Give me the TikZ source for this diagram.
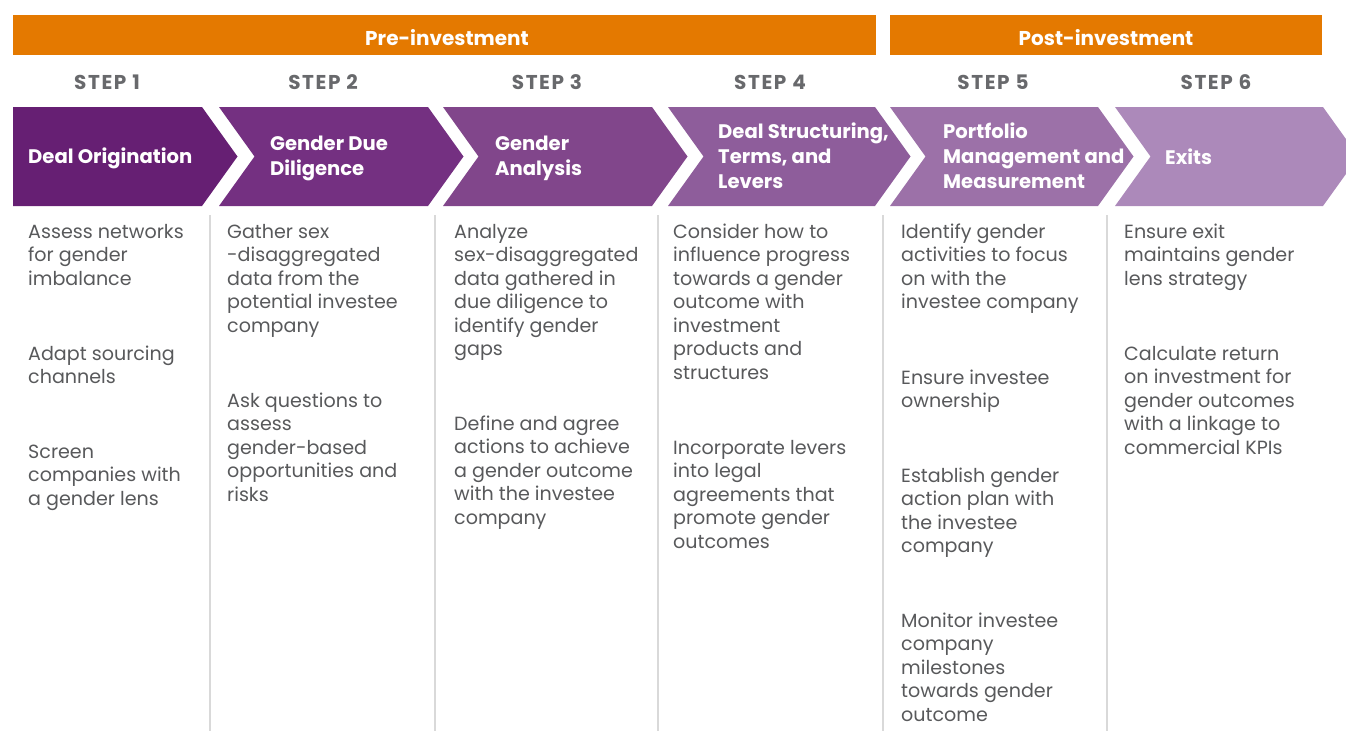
\documentclass[tikz,border=0pt]{standalone}
\usepackage{fontspec}
\setmainfont{Poppins}
\definecolor{orangebar}{HTML}{E47900}
\definecolor{stepgray}{HTML}{68696C}
\definecolor{bodygray}{HTML}{58595B}
\definecolor{sepgray}{HTML}{D9D9D9}
\definecolor{cA}{HTML}{661F73}
\definecolor{cB}{HTML}{743081}
\definecolor{cC}{HTML}{81468B}
\definecolor{cD}{HTML}{8E5D9B}
\definecolor{cE}{HTML}{9C71A8}
\definecolor{cF}{HTML}{AC89BA}
\tikzset{
  bartitle/.style={anchor=base, inner sep=0pt, text=white, font=\bfseries\fontsize{20}{24}\selectfont},
  steplabel/.style={anchor=base, inner sep=0pt, text=stepgray, font=\bfseries\fontsize{20}{24}\selectfont\addfontfeature{LetterSpace=8}},
  chevtext/.style={anchor=north west, inner sep=0pt, align=left, text=white, font=\bfseries\fontsize{19.6}{25}\selectfont},
  body/.style={anchor=north west, inner sep=0pt, align=left, text=bodygray, font=\fontsize{19.1}{23.5}\selectfont},
  sepline/.style={draw=sepgray, line width=2pt}
}
\newcommand{\chevron}[4]{% left, right, colour, flat-left?
  \fill[#3] (#1,107) -- (#2,107) -- ({#2+35.5},156.5) -- (#2,206) -- (#1,206)
  \ifx#4y\else -- ({#1+35.5},156.5)\fi -- cycle;}
\newcommand{\para}[4]{\node[body] (#3) at (#1,{#2-16}) {\rule{0pt}{16pt}#4};}
\newcommand{\ctext}[4]{\node[chevtext] (#3) at (#1,{#2-18}) {\rule{0pt}{18pt}#4};}
\begin{document}
\begin{tikzpicture}[x=1pt,y=-1pt]
\useasboundingbox (0,0) rectangle (1346,731);
\clip (0,0) rectangle (1346,731);
% phase bars
\fill[orangebar] (13,15) rectangle (876,55);
\fill[orangebar] (890,15) rectangle (1322,55);
\node[bartitle] (pre) at (447,45) {Pre-investment};
\node[bartitle] (post) at (1106,45) {Post-investment};
% steps
\node[steplabel] (s1) at (107,89) {STEP 1};
\node[steplabel] (s2) at (323,89) {STEP 2};
\node[steplabel] (s3) at (547,89) {STEP 3};
\node[steplabel] (s4) at (770,89) {STEP 4};
\node[steplabel] (s5) at (993,89) {STEP 5};
\node[steplabel] (s6) at (1216,89) {STEP 6};
% chevrons
\chevron{13}{202}{cA}{y}
\chevron{219}{428}{cB}{n}
\chevron{443}{652}{cC}{n}
\chevron{668}{875}{cD}{n}
\chevron{890}{1098}{cE}{n}
\chevron{1115}{1323}{cF}{n}
\ctext{28}{163}{c1}{Deal Origination}
\ctext{270}{150}{c2}{Gender Due\\Diligence}
\ctext{495}{150}{c3}{Gender\\Analysis}
\ctext{718}{138}{c4}{Deal Structuring,\\Terms, and\\Levers}
\ctext{943}{138}{c5}{Portfolio\\Management and\\Measurement}
\ctext{1165}{164}{c6}{Exits}
% separators
\foreach \x in {210,435,658,883,1107}
  \draw[sepline] (\x,215) -- (\x,731);
% column 1
\para{28}{238}{p11}{Assess networks\\for gender\\imbalance}
\para{28}{360}{p12}{Adapt sourcing\\channels}
\para{28}{458}{p13}{Screen\\companies with\\a gender lens}
% column 2
\para{227}{238}{p21}{Gather sex\\-disaggregated\\data from the\\potential investee\\company}
\para{227}{407}{p22}{Ask questions to\\assess\\gender-based\\opportunities and\\risks}
% column 3
\para{454}{238}{p31}{Analyze\\sex-disaggregated\\data gathered in\\due diligence to\\identify gender\\gaps}
\para{454}{430}{p32}{Define and agree\\actions to achieve\\a gender outcome\\with the investee\\company}
% column 4
\para{673}{238}{p41}{Consider how to\\influence progress\\towards a gender\\outcome with\\investment\\products and\\structures}
\para{673}{454}{p42}{Incorporate levers\\into legal\\agreements that\\promote gender\\outcomes}
% column 5
\para{901}{238}{p51}{Identify gender\\activities to focus\\on with the\\investee company}
\para{901}{384}{p52}{Ensure investee\\ownership}
\para{901}{482}{p53}{Establish gender\\action plan with\\the investee\\company}
\para{901}{627}{p54}{Monitor investee\\company\\milestones\\towards gender\\outcome}
% column 6
\para{1124}{238}{p61}{Ensure exit\\maintains gender\\lens strategy}
\para{1124}{360}{p62}{Calculate return\\on investment for\\gender outcomes\\with a linkage to\\commercial KPIs}
\end{tikzpicture}
\end{document}
